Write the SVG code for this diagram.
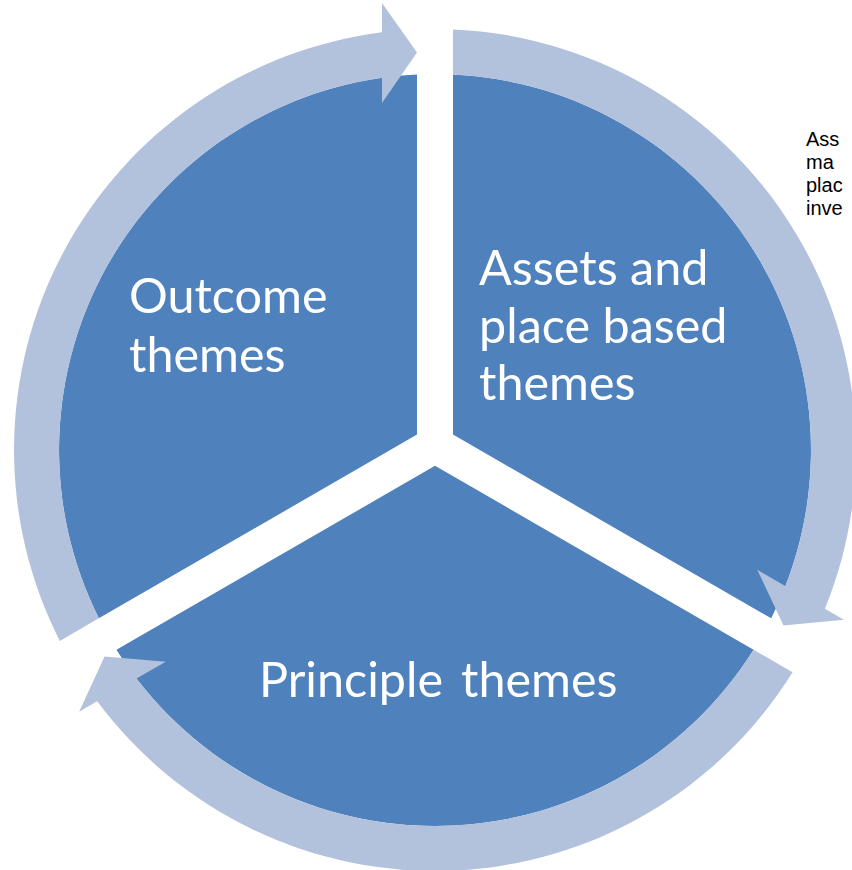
<svg xmlns="http://www.w3.org/2000/svg" width="852" height="870" viewBox="0 0 852 870">
<style>
.seg{fill:#4F81BD}
.arr{fill:#B3C2DC}
.lbl{font-family:Lato,"Open Sans","Liberation Sans",sans-serif;font-size:48.5px;fill:#FFFFFF}
.note{font-family:"Liberation Sans",Arial,sans-serif;font-size:20px;fill:#000000}
</style>
<rect width="852" height="870" fill="#FFFFFF"/>
<g id="outcome">
<path class="seg" d="M417,434.6 L417,74.4 A376,376 0 0 0 98.8,618.3 Z"/>
<text class="lbl" x="129" y="313">Outcome</text>
<text class="lbl" x="129" y="371.5">themes</text>
</g>
<g id="assets">
<path class="seg" d="M453,434.6 L453,74.4 A376,376 0 0 1 771.2,618.3 Z"/>
<text class="lbl" x="479" y="285">Assets and</text>
<text class="lbl" x="479" y="342.5">place based</text>
<text class="lbl" x="479" y="400">themes</text>
</g>
<g id="principle">
<path class="seg" d="M435,465.8 L753.56,649.72 A376,376 0 0 1 116.44,649.72 Z"/>
<text class="lbl" y="697"><tspan x="259">Principle</tspan><tspan x="461">themes</tspan></text>
</g>
<g id="connectors">
<path class="arr" d="M59.8,640.9 A421,421 0 0 1 382,32.35 L382,2.9 L417,52.4 L382,102.9 L382,77.76 A376,376 0 0 0 98.8,618.3 Z"/>
<path class="arr" d="M453,29.4 A421,421 0 0 1 824.87,608.87 L843.87,619.84 L783.5,625.4 L757.27,569.84 L785.5,586.14 A376,376 0 0 0 453,74.43 Z"/>
<path class="arr" d="M792.55,672.23 A421,421 0 0 1 97.18,701.24 L79.16,711.65 L104.53,656.59 L165.76,661.65 L136.45,678.57 A376,376 0 0 0 753.56,649.72 Z"/>
</g>
<g id="side-note">
<text class="note" x="806" y="146">Ass</text>
<text class="note" x="806" y="169">ma</text>
<text class="note" x="806" y="192">plac</text>
<text class="note" x="806" y="215">inve</text>
</g>
</svg>
